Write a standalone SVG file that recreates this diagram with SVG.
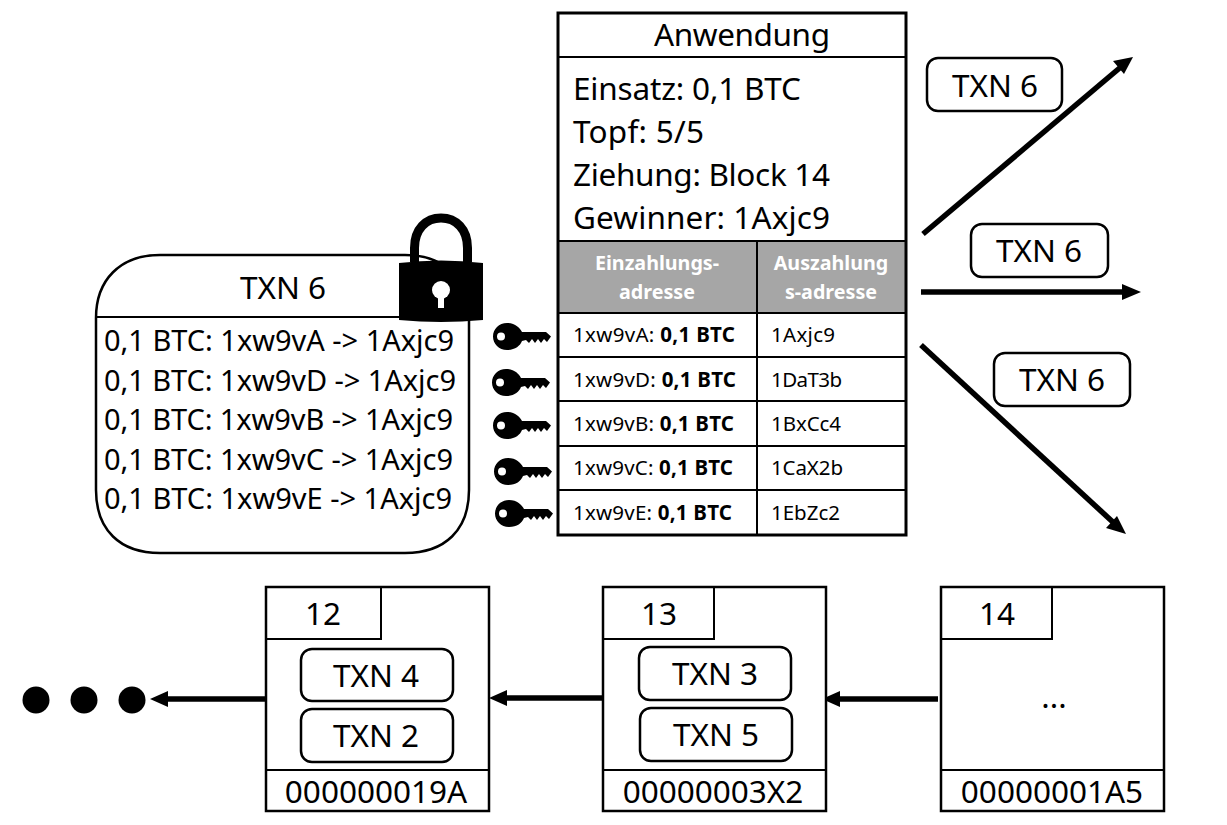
<svg xmlns="http://www.w3.org/2000/svg" width="1227" height="825" viewBox="0 0 1227 825">
<style>
text{font-family:"Noto Sans","Open Sans","DejaVu Sans",sans-serif;fill:#000}
.big{font-size:31.5px}
.l{font-size:29px}
.t{font-size:20.500px}
.b{font-weight:700}
.h{font-size:19.700px;font-weight:700;fill:#fff;text-anchor:middle}
.m{text-anchor:middle}
.box{fill:#fff;stroke:#000;stroke-width:2.500}
.heavy{fill:none;stroke:#000;stroke-width:3}
.thin{fill:none;stroke:#000;stroke-width:2}
.arr{fill:none;stroke:#000;stroke-width:5.500}
.ah{fill:#000}
</style>
<defs>
<path id="key" d="M14 0C22 0 27 5 29 9L53 9L58 13.500L54 19L51 16L48 20L45 16L42 20L39 16L36 20L33 17L29 18C27 23 22 27 14 27C6 27 0 21 0 13.500C0 6 6 0 14 0ZM8 9.500A4 4 0 1 0 8 17.500A4 4 0 1 0 8 9.500Z" fill-rule="evenodd" fill="#000"/>
</defs>

<g id="connectors">
<path class="arr" d="M923 234L1122 66"/><path class="ah" d="M1133 57L1124 74L1113 61Z"/>
<path class="arr" d="M921 292L1124 292"/><path class="ah" d="M1141 292L1122 284L1122 300Z"/>
<path class="arr" d="M921 345L1115 524"/><path class="ah" d="M1126 534L1117 516L1106 528Z"/>
<path class="arr" d="M266 699L165 699"/><path class="ah" d="M150 699L168 691L168 707Z"/>
<path class="arr" d="M603 698L505 698"/><path class="ah" d="M489 698L507 690L507 706Z"/>
<path class="arr" d="M938 699L838 699"/><path class="ah" d="M822 699L840 691L840 707Z"/>
</g>

<g id="txn-main">
<path class="box" d="M160 255H405C445 255 469 280 469 318V490C469 530 445 553 405 553H160C120 553 96 530 96 490V318C96 280 120 255 160 255Z"/>
<path class="thin" d="M96 317H469"/>
<text class="big m" x="283" y="299">TXN 6</text>
<text class="l" x="104" y="351" textLength="350">0,1 BTC: 1xw9vA -&gt; 1Axjc9</text>
<text class="l" x="104" y="391" textLength="352">0,1 BTC: 1xw9vD -&gt; 1Axjc9</text>
<text class="l" x="104" y="430" textLength="349">0,1 BTC: 1xw9vB -&gt; 1Axjc9</text>
<text class="l" x="104" y="470" textLength="349">0,1 BTC: 1xw9vC -&gt; 1Axjc9</text>
<text class="l" x="104" y="509" textLength="348">0,1 BTC: 1xw9vE -&gt; 1Axjc9</text>
</g>

<g id="lock">
<path d="M414.500 262V248C414.500 229 426 218 441 218C456 218 467.500 229 467.500 248V262" fill="none" stroke="#000" stroke-width="9"/>
<path d="M399 263Q441 258 483 263V320Q441 324 399 320Z" fill="#000"/>
<circle cx="441" cy="290" r="9" fill="#fff"/>
<path d="M438 292H444V308H438Z" fill="#fff"/>
</g>

<g id="keys">
<use href="#key" x="493" y="323"/>
<use href="#key" x="492" y="369"/>
<use href="#key" x="493" y="412"/>
<use href="#key" x="494" y="458"/>
<use href="#key" x="495" y="500"/>
</g>

<g id="app">
<rect x="558" y="13" width="348" height="522" fill="#fff"/>
<rect x="558" y="241" width="348" height="72" fill="#a6a6a6"/>
<path class="thin" d="M558 57H906"/>
<path class="thin" d="M757 241V535"/>
<path class="thin" d="M558 241H906M558 313H906M558 357H906M558 401H906M558 446H906M558 490H906"/>
<rect x="558" y="13" width="348" height="522" class="heavy"/>
<text class="big m" x="742" y="46" textLength="176">Anwendung</text>
<text class="big" x="573" y="100" textLength="228">Einsatz: 0,1 BTC</text>
<text class="big" x="573" y="143" textLength="131">Topf: 5/5</text>
<text class="big" x="573" y="186" textLength="257">Ziehung: Block 14</text>
<text class="big" x="573" y="229" textLength="257">Gewinner: 1Axjc9</text>
<text class="h" x="657" y="270">Einzahlungs-</text>
<text class="h" x="657" y="299">adresse</text>
<text class="h" x="831" y="270">Auszahlung</text>
<text class="h" x="831" y="299">s-adresse</text>
<text class="t" x="573" y="342" textLength="162">1xw9vA: <tspan class="b">0,1 BTC</tspan></text>
<text class="t" x="573" y="387" textLength="163">1xw9vD: <tspan class="b">0,1 BTC</tspan></text>
<text class="t" x="573" y="431" textLength="161">1xw9vB: <tspan class="b">0,1 BTC</tspan></text>
<text class="t" x="573" y="475" textLength="160">1xw9vC: <tspan class="b">0,1 BTC</tspan></text>
<text class="t" x="573" y="520" textLength="159">1xw9vE: <tspan class="b">0,1 BTC</tspan></text>
<text class="t" x="771" y="342" textLength="64">1Axjc9</text>
<text class="t" x="771" y="387" textLength="71">1DaT3b</text>
<text class="t" x="771" y="431" textLength="70">1BxCc4</text>
<text class="t" x="771" y="475" textLength="72">1CaX2b</text>
<text class="t" x="771" y="520" textLength="69">1EbZc2</text>
</g>

<g id="txn-out-1"><rect class="box" x="927" y="58" width="135" height="53" rx="11"/><text class="big m" x="995" y="97">TXN 6</text></g>
<g id="txn-out-2"><rect class="box" x="971" y="224" width="137" height="53" rx="11"/><text class="big m" x="1039" y="262">TXN 6</text></g>
<g id="txn-out-3"><rect class="box" x="994" y="353" width="136" height="53" rx="11"/><text class="big m" x="1062" y="391">TXN 6</text></g>

<g id="block-12">
<rect class="box" x="266" y="587" width="223" height="224"/>
<path class="thin" d="M266 639H381V587M266 770H489"/>
<text class="big m" x="323" y="625">12</text>
<rect class="box" x="301" y="649" width="152" height="52" rx="11"/><text class="big m" x="376" y="687">TXN 4</text>
<rect class="box" x="301" y="709" width="152" height="53" rx="11"/><text class="big m" x="376" y="747">TXN 2</text>
<text class="big m" x="376" y="803">000000019A</text>
</g>
<g id="block-13">
<rect class="box" x="603" y="587" width="223" height="224"/>
<path class="thin" d="M603 639H714V587M603 770H826"/>
<text class="big m" x="659" y="625">13</text>
<rect class="box" x="639" y="647" width="152" height="53" rx="11"/><text class="big m" x="715" y="685">TXN 3</text>
<rect class="box" x="640" y="708" width="152" height="53" rx="11"/><text class="big m" x="716" y="746">TXN 5</text>
<text class="big m" x="713" y="803">00000003X2</text>
</g>
<g id="block-14">
<rect class="box" x="941" y="587" width="223" height="224"/>
<path class="thin" d="M941 639H1052V587M941 770H1164"/>
<text class="big m" x="997" y="625">14</text>
<text class="big m" x="1054" y="708">...</text>
<text class="big m" x="1052" y="803">00000001A5</text>
</g>
<g id="ellipsis">
<circle cx="36" cy="700" r="13.500" fill="#000"/>
<circle cx="84" cy="700" r="13.500" fill="#000"/>
<circle cx="132" cy="700" r="13.500" fill="#000"/>
</g>
</svg>
